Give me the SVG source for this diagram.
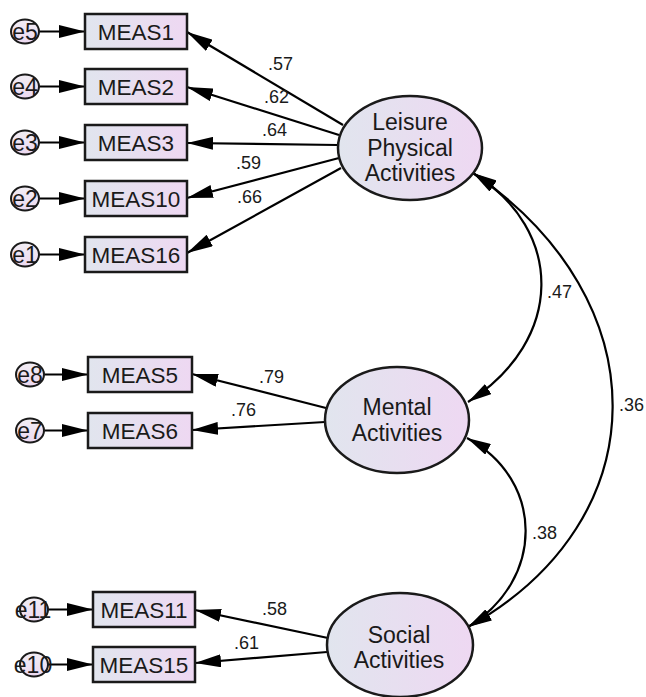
<svg xmlns="http://www.w3.org/2000/svg" width="646" height="697" viewBox="0 0 646 697">
<defs>
<linearGradient id="gbox" x1="0" y1="0" x2="1" y2="0">
<stop offset="0" stop-color="#e1e5ee"/>
<stop offset="1" stop-color="#eed8f2"/>
</linearGradient>
<linearGradient id="gerr" x1="0" y1="0" x2="0" y2="1">
<stop offset="0" stop-color="#f2eef4"/>
<stop offset="1" stop-color="#ecd8f0"/>
</linearGradient>
<marker id="ah" viewBox="0 0 26 13" refX="26" refY="6.5" markerWidth="26" markerHeight="13" markerUnits="userSpaceOnUse" orient="auto-start-reverse">
<path d="M0,0 L26,6.5 L0,13 Z" fill="#000"/>
</marker>
<marker id="ahc" viewBox="0 0 24 12" refX="24" refY="6" markerWidth="24" markerHeight="12" markerUnits="userSpaceOnUse" orient="auto-start-reverse">
<path d="M0,0 L24,6 L0,12 Z" fill="#000"/>
</marker>
</defs>
<style>
.box{fill:url(#gbox);stroke:#1a1a1a;stroke-width:2.5}
.lat{fill:url(#gbox);stroke:#1a1a1a;stroke-width:2.5}
.err{fill:url(#gerr);stroke:#1a1a1a;stroke-width:2}
.t{font-family:"Liberation Sans",Arial,sans-serif;font-size:22.5px;fill:#1a1a1a;text-anchor:middle}
.tl{font-family:"Liberation Sans",Arial,sans-serif;font-size:23px;fill:#1a1a1a;text-anchor:middle}
.te{font-family:"Liberation Sans",Arial,sans-serif;font-size:23px;fill:#1a1a1a;text-anchor:middle}
.n{font-family:"Liberation Sans",Arial,sans-serif;font-size:18px;fill:#1a1a1a}
.c{fill:none;stroke:#000;stroke-width:2.2}
.a{marker-end:url(#ah)}
.cv{marker-start:url(#ahc);marker-end:url(#ahc)}
</style>

<g id="connectors">
<line class="c a" x1="39" y1="31.5" x2="85" y2="31.5"/>
<line class="c a" x1="39" y1="86.5" x2="85" y2="86.5"/>
<line class="c a" x1="39" y1="142.5" x2="85" y2="142.5"/>
<line class="c a" x1="39" y1="198.5" x2="85" y2="198.5"/>
<line class="c a" x1="39" y1="254.5" x2="85" y2="254.5"/>
<line class="c a" x1="44" y1="374.5" x2="88" y2="374.5"/>
<line class="c a" x1="44" y1="430.5" x2="88" y2="430.5"/>
<line class="c a" x1="48" y1="609.5" x2="93" y2="609.5"/>
<line class="c a" x1="48" y1="664.5" x2="93" y2="664.5"/>
<line class="c a" x1="343" y1="125" x2="187" y2="32"/>
<line class="c a" x1="339" y1="135" x2="187" y2="87"/>
<line class="c a" x1="338" y1="145" x2="187" y2="143"/>
<line class="c a" x1="339" y1="158" x2="187" y2="198"/>
<line class="c a" x1="341" y1="168" x2="187" y2="253"/>
<line class="c a" x1="326" y1="408" x2="192" y2="374"/>
<line class="c a" x1="325" y1="422" x2="192" y2="430"/>
<line class="c a" x1="328" y1="638" x2="195" y2="610"/>
<line class="c a" x1="327" y1="652" x2="195" y2="663"/>
<path class="c cv" d="M473,173 C565,230 565,340 468,402"/>
<path class="c cv" d="M473,173 C660,300 660,520 468,627"/>
<path class="c cv" d="M467,438 C545,480 545,580 468,627"/>
<text class="n" x="268" y="70">.57</text>
<text class="n" x="264" y="103">.62</text>
<text class="n" x="262" y="136">.64</text>
<text class="n" x="236" y="169">.59</text>
<text class="n" x="237" y="203">.66</text>
<text class="n" x="259" y="383">.79</text>
<text class="n" x="231" y="416">.76</text>
<text class="n" x="262" y="615">.58</text>
<text class="n" x="234" y="649">.61</text>
<text class="n" x="547" y="298">.47</text>
<text class="n" x="619" y="411">.36</text>
<text class="n" x="532" y="539">.38</text>
</g>

<g id="e5"><ellipse class="err" cx="25" cy="31.5" rx="14" ry="12"/><text class="te" x="25" y="39.5">e5</text></g>
<g id="e4"><ellipse class="err" cx="25" cy="86.5" rx="14" ry="12"/><text class="te" x="25" y="94.5">e4</text></g>
<g id="e3"><ellipse class="err" cx="25" cy="142.5" rx="14" ry="12"/><text class="te" x="25" y="150.5">e3</text></g>
<g id="e2"><ellipse class="err" cx="25" cy="198.5" rx="14" ry="12"/><text class="te" x="25" y="206.5">e2</text></g>
<g id="e1"><ellipse class="err" cx="25" cy="254.5" rx="14" ry="12"/><text class="te" x="25" y="262.5">e1</text></g>
<g id="e8"><ellipse class="err" cx="30" cy="374.5" rx="14" ry="12"/><text class="te" x="30" y="382.5">e8</text></g>
<g id="e7"><ellipse class="err" cx="30" cy="430.5" rx="14" ry="12"/><text class="te" x="30" y="438.5">e7</text></g>
<g id="e11"><ellipse class="err" cx="34" cy="609.5" rx="14" ry="12"/><text class="te" x="33" y="617.5">e11</text></g>
<g id="e10"><ellipse class="err" cx="34" cy="664.5" rx="14" ry="12"/><text class="te" x="33" y="672.5">e10</text></g>

<g id="MEAS1"><rect class="box" x="85" y="14" width="102" height="35"/><text class="t" x="136" y="39.5">MEAS1</text></g>
<g id="MEAS2"><rect class="box" x="85" y="69" width="102" height="35"/><text class="t" x="136" y="94.5">MEAS2</text></g>
<g id="MEAS3"><rect class="box" x="85" y="125" width="102" height="35"/><text class="t" x="136" y="150.5">MEAS3</text></g>
<g id="MEAS10"><rect class="box" x="85" y="181" width="102" height="35"/><text class="t" x="136" y="206.5">MEAS10</text></g>
<g id="MEAS16"><rect class="box" x="85" y="237" width="102" height="35"/><text class="t" x="136" y="262.5">MEAS16</text></g>
<g id="MEAS5"><rect class="box" x="88" y="357" width="104" height="35"/><text class="t" x="140" y="382.5">MEAS5</text></g>
<g id="MEAS6"><rect class="box" x="88" y="413" width="104" height="35"/><text class="t" x="140" y="438.5">MEAS6</text></g>
<g id="MEAS11"><rect class="box" x="93" y="592" width="102" height="35"/><text class="t" x="144" y="617.5">MEAS11</text></g>
<g id="MEAS15"><rect class="box" x="93" y="647" width="102" height="35"/><text class="t" x="144" y="672.5">MEAS15</text></g>

<g id="Leisure"><ellipse class="lat" cx="410" cy="148" rx="72" ry="52"/>
<text class="tl" x="410" y="130">Leisure</text><text class="tl" x="410" y="155.5">Physical</text><text class="tl" x="410" y="181">Activities</text></g>
<g id="Mental"><ellipse class="lat" cx="397" cy="420" rx="72" ry="53"/>
<text class="tl" x="397" y="415">Mental</text><text class="tl" x="397" y="441">Activities</text></g>
<g id="Social"><ellipse class="lat" cx="400" cy="645" rx="73" ry="52"/>
<text class="tl" x="399" y="643">Social</text><text class="tl" x="399" y="668">Activities</text></g>
</svg>
